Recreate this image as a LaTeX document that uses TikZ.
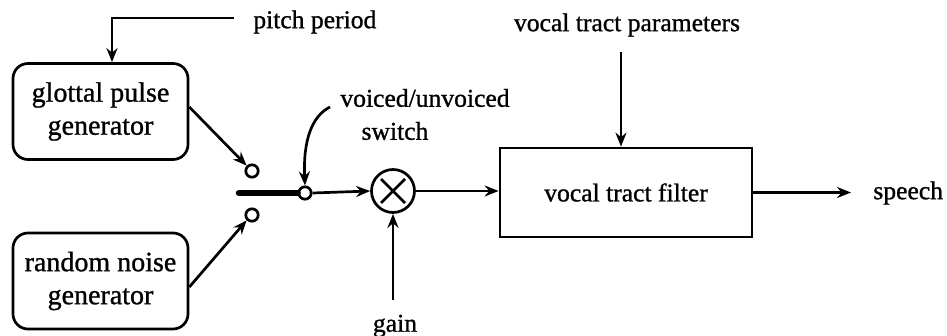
\documentclass[tikz,border=0pt]{standalone}
\usepackage{fontspec}
\setmainfont{Liberation Serif}[FakeBold=1]
\usetikzlibrary{arrows.meta,calc}
\begin{document}
\begin{tikzpicture}[x=0.5pt,y=-0.5pt, line width=1.35pt,
  >={Stealth[length=7pt,width=5.5pt]},
  txt/.style={font=\fontsize{12.8}{16.5}\selectfont, inner sep=0pt, align=center},
  btxt/.style={font=\fontsize{14}{16.5}\selectfont, inner sep=0pt, align=center},
  rbox/.style={btxt, draw, rounded corners=7.5pt, minimum width=87.5pt, minimum height=48pt},
  sbox/.style={txt, draw, minimum width=126pt, minimum height=44.5pt},
  contact/.style={circle, draw, line width=1.35pt, minimum size=6.2pt, inner sep=0pt},
  mult/.style={circle, draw, minimum size=21.5pt, inner sep=0pt}]
\useasboundingbox (0,0) rectangle (947,336);
% boxes
\node[rbox] (glottal) at (100.5,111.5) {glottal pulse\\generator};
\node[rbox] (noise) at (100.5,281) {random noise\\generator};
\node[sbox] (filter) at (626,192.5) {vocal tract filter};
% labels
\node[txt, anchor=west] (pitch) at (252,22) {pitch period};
\node[txt] (vtp) at (627,25) {vocal tract parameters};
\node[txt] (vu) at (425,98) {voiced/unvoiced};
\node[txt] (sw) at (395,131) {switch};
\node[txt] (gain) at (395,326) {gain};
\node[txt, anchor=west] (speech) at (872,193) {speech};
% switch contacts
\node[contact] (c1) at (252,171) {};
\node[contact] (c2) at (252,215) {};
\node[contact] (c3) at (305,193) {};
\coordinate (barstart) at (239,193);
\draw[line width=3.3pt, line cap=round] (barstart) -- (c3.west);
% multiplier
\node[mult] (m) at (393,191) {};
\draw ($(m)+(-12,-12)$) -- ($(m)+(12,12)$);
\draw ($(m)+(-12,12)$) -- ($(m)+(12,-12)$);
% pitch period
\coordinate (pp1) at (234,18);
\coordinate (pp2) at (112,18);
\draw[->] (pp1) -- (pp2) -- (pp2 |- glottal.north);
% generators to switch
\draw[->] (glottal.east |- 0,107) -- (c1.north west);
\draw[->] (noise.east |- 0,287) -- (c2.south west);
% switch curved arrow
\coordinate (swa) at (330,107);
\draw[->] (swa) .. controls (312,116) and (303,140) .. (c3.north);
% signal path
\draw[->] (c3.east) -- (m.west);
\draw[->] (m.east) -- (filter.west |- m.east);
\coordinate (g0) at (393,300);
\draw[->] (g0) -- (m.south);
\coordinate (vt0) at (621,52);
\draw[->] (vt0) -- (vt0 |- filter.north);
\coordinate (sp) at (851,192.5);
\draw[->] (filter.east) -- (sp);
\end{tikzpicture}
\end{document}
